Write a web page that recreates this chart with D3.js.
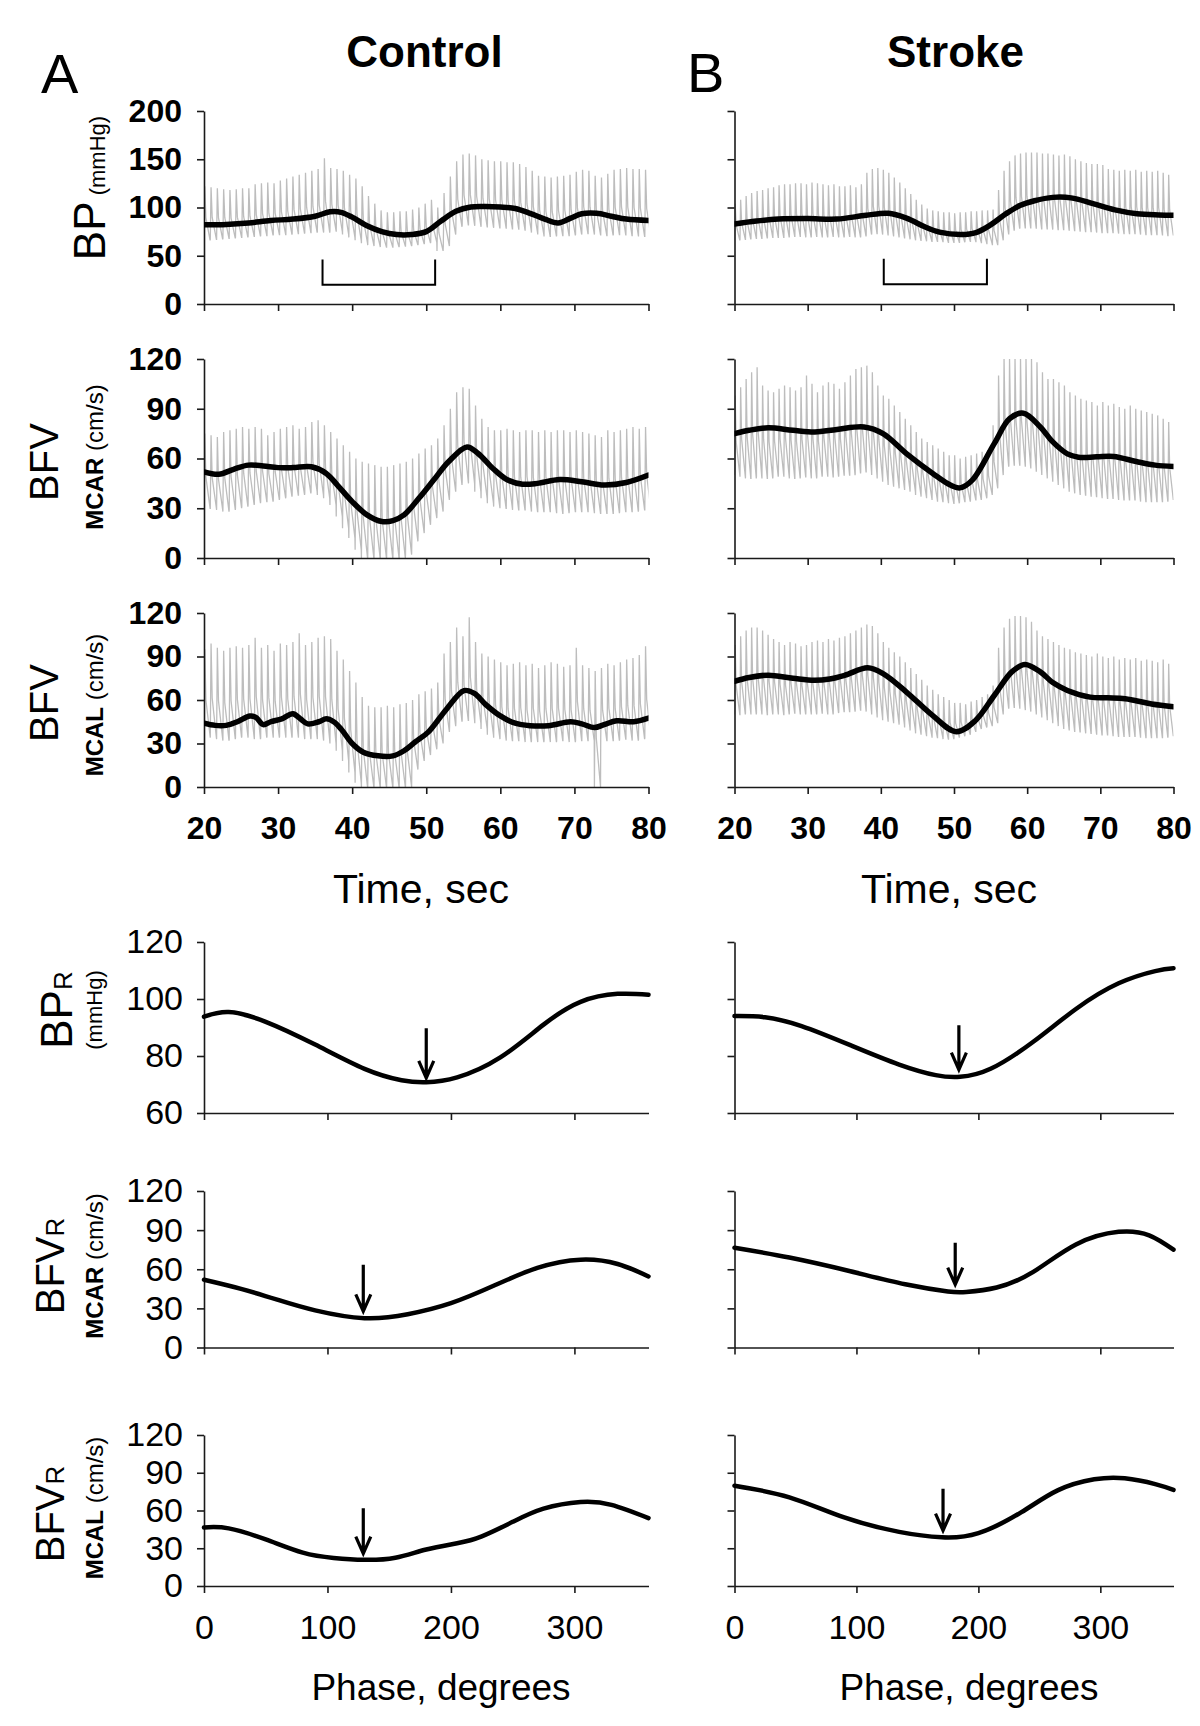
<!DOCTYPE html>
<html><head><meta charset="utf-8">
<script src="https://cdn.jsdelivr.net/npm/d3@7"></script>
<style>
body{margin:0;background:#fff}
svg{display:block}
text{font-family:"Liberation Sans",Arial,Helvetica,sans-serif;fill:#000}
</style>
</head><body>
<svg id="c" width="1200" height="1726"></svg>
<script>
// ---------------- DATA ----------------
const timeTicks = [20,30,40,50,60,70,80];
const phaseTicks = [0,100,200,300];
const bpTicks = [0,50,100,150,200];
const bfvTicks = [0,30,60,90,120];
const bprTicks = [60,80,100,120];

// beat-to-beat (one value per heartbeat), beats start at 20 s
const ctrlBeatPeriod = 0.85;
const strkBeatPeriod = 0.75;

const ctrlBPsys = [122,121,120,119,118,119,120,120,124,125,126,125,128,130,132,134,136,138,140,151,141,140,138,134,130,122,112,104,97,95,95,96,96,98,100,104,108,100,115,132,148,155,156,154,150,149,148,148,147,147,145,142,138,133,132,131,132,133,134,137,139,138,133,131,135,139,140,141,140,140,139];
const ctrlBPdia = [66,67,67,68,68,69,69,70,70,71,71,72,72,72,73,73,74,74,75,74,76,75,72,69,66,63,61,60,59,59,59,60,60,61,62,63,64,55,60,72,80,82,82,81,80,80,79,79,78,78,77,76,74,72,70,70,71,71,71,72,73,73,72,71,71,72,72,71,71,70,70];
const ctrlMCARsys = [75,74,73,76,77,78,79,78,79,78,74,76,78,79,80,78,79,82,83,80,76,72,68,64,60,58,57,56,55,55,56,57,58,60,63,66,68,72,80,90,100,103,102,92,84,79,77,77,78,77,76,77,77,76,77,76,77,77,76,77,76,75,74,73,77,76,77,78,79,78,79];
const ctrlMCARdia = [30,30,29,28,29,30,31,32,33,34,34,35,36,37,38,38,39,40,38,36,32,25,18,12,5,0,0,0,0,0,0,0,2,10,15,20,24,28,35,40,44,46,45,40,36,33,31,30,30,29,29,29,28,28,28,28,27,27,28,28,28,28,27,27,27,27,28,28,28,29,29];
const ctrlMCALsys = [95,99,96,94,96,97,96,98,103,96,98,94,99,98,100,106,98,100,103,104,102,94,88,80,72,62,56,55,55,56,55,57,58,60,64,66,68,72,92,100,110,104,117,100,92,90,88,86,84,85,86,84,85,82,84,86,85,83,84,96,84,82,80,82,85,84,86,88,89,91,97];
const ctrlMCALdia = [35,34,33,32,33,34,35,34,33,34,35,34,35,34,35,34,33,34,33,32,30,25,18,10,3,0,0,0,0,0,0,0,0,12,18,22,26,30,38,42,45,46,46,44,40,36,34,33,32,32,32,31,32,31,32,31,32,32,31,32,32,32,0,32,32,32,33,33,32,33,34];

const strkBPsys = [104,108,112,115,117,118,120,121,123,124,124,125,125,124,126,125,124,123,124,122,122,123,121,124,136,140,141,139,136,131,126,120,114,108,103,99,97,96,95,95,94,95,95,96,96,97,97,98,118,138,148,154,156,157,157,157,156,156,155,154,155,153,150,148,146,145,145,144,140,139,138,139,138,139,137,138,137,138,136,134];
const strkBPdia = [66,67,67,68,68,68,69,69,69,69,70,70,70,69,70,70,69,70,70,69,70,70,69,70,72,73,73,72,71,70,69,68,67,66,66,65,65,65,64,64,64,64,65,65,64,63,62,61,66,72,76,78,79,79,79,78,78,78,77,77,77,76,76,75,75,75,74,74,74,74,73,73,73,73,72,72,72,72,71,71];
const strkMCARsys = [98,103,108,112,115,104,101,100,102,104,103,101,103,110,105,100,104,106,105,102,106,110,114,115,116,112,104,98,96,92,88,84,80,76,72,70,68,66,64,62,62,60,61,62,63,64,65,80,110,120,120,120,120,120,120,118,112,108,108,106,104,100,98,96,95,94,92,94,92,93,91,90,92,90,89,88,87,86,84,82];
const strkMCARdia = [50,49,48,48,49,48,48,49,50,49,48,48,49,49,48,49,50,49,49,50,50,50,51,52,52,50,48,46,44,43,42,41,40,38,37,36,35,34,34,33,33,34,34,35,35,36,38,42,50,55,56,56,56,55,54,52,50,48,46,44,42,40,39,38,38,37,37,36,36,36,35,35,35,35,34,34,34,34,34,35];
const strkMCALsys = [98,104,108,110,110,108,105,102,100,98,100,99,97,98,100,101,100,102,101,103,104,106,108,110,112,111,106,100,96,93,90,86,82,78,74,70,67,64,62,60,58,58,57,59,60,62,64,70,96,110,116,118,118,117,114,108,104,102,100,98,96,95,93,92,91,90,92,90,89,90,88,89,88,89,87,88,87,86,88,85];
const strkMCALdia = [50,50,51,50,51,50,50,51,50,50,51,51,50,51,50,51,51,50,51,52,52,52,53,53,52,50,48,46,45,44,43,41,39,37,36,35,34,34,33,33,34,35,36,38,40,41,42,44,50,54,55,55,54,53,52,50,48,46,44,42,40,39,38,38,37,37,36,36,36,35,35,35,35,35,34,34,34,34,34,35];

// mean (filtered) signals [time s, value]
const ctrlBPmean = [[20,82],[23,82.5],[26,84],[29,86.5],[32,88],[35,91],[37,95.5],[38.5,95],[40,90],[42,81],[44,75],[46,72],[48,72],[50,75],[52,86],[54,96],[56,100.5],[58,101],[60,100.5],[62,99],[64,94],[66,88],[67.8,84],[69.5,89],[71,93.5],[73,94],[75,91],[77,88],[80,86.5]];
const strkBPmean = [[20,83],[23,86],[26,88],[30,88.5],[34,88],[38,92],[41,94],[43.5,89],[46,80],[48,74.5],[51,72],[53,74],[55,82],[57,93],[59,102],[61,107],[63.5,110.5],[66,110],[69,104],[72,97.5],[75,93.5],[78,92.3],[80,92]];
const ctrlMCARmean = [[20,52],[22,50.5],[24,53.5],[26,56],[28,55.5],[30,54.5],[32,54.5],[34.5,55],[36.5,51],[38,44],[40,34],[42,26],[44,22],[45.5,22.5],[47,26],[49,36],[51,47],[53,58],[55.5,67],[57,63],[59,54],[61,47],[63,44.5],[65,45],[68,47.3],[71,46],[74,44],[77,45.5],[80,50]];
const strkMCARmean = [[20,75],[22,77],[24.6,78.5],[28,77],[31,76],[34,77.5],[37.7,79],[40.3,75],[43.5,63],[47.1,51],[49.5,44],[50.8,42.3],[52.5,47],[55.5,69],[57.6,84],[59.5,87.3],[61.8,79],[63.5,70],[65.5,62.8],[67,60.8],[69.5,61],[71.8,61.2],[74.9,58.2],[77.5,56],[80,55.2]];
const ctrlMCALmean = [[20,44],[21.5,42.5],[23,42.5],[24.5,45],[26.2,49],[27,48],[28,43],[29,45],[30.5,47],[32,50.5],[33,47],[34,43.5],[35.5,45],[36.5,47],[37.5,45],[38.5,40],[40,30],[41.5,24],[43.5,21.5],[45.5,21.5],[47,25],[48.5,31],[50.3,38],[52.7,53.5],[55.1,66.5],[56.5,64.5],[58,57],[60,49],[62,44],[64,42.3],[66.5,42.3],[69.5,45],[71,43.5],[72.7,41],[74,43],[75.7,45.7],[78,45],[80,47.5]];
const strkMCALmean = [[20,72.9],[22,75.5],[24.6,77.1],[28,75],[30.9,73.6],[33,74.5],[35.1,77.1],[38.2,82.2],[40.3,78.2],[43.5,65.5],[47.1,49.2],[50.3,38.1],[52.9,45.7],[55.5,63.1],[57.9,79.4],[59.7,84.5],[61.8,79.4],[63.5,72],[65.5,66.6],[68.6,62],[71,61.5],[73.4,60.8],[77,57.3],[80,55.4]];

// stimulus bracket [start s, end s, top, bottom]
const ctrlBracket = [36, 51.2, 46, 20];
const strkBracket = [40.4, 54.5, 47, 20.5];

// phase-averaged responses [phase deg, value]
const ctrlBPR = [[0,93.8],[20,95.4],[50,92],[90,84],[130,75.5],[160,71.5],[180,70.8],[205,72.5],[240,79.5],[275,91],[305,99],[335,101.8],[360,101.5]];
const strkBPR = [[0,94],[25,93.6],[55,90.5],[95,83.8],[135,77],[165,73.3],[185,72.7],[210,75.5],[245,85],[280,96.5],[315,105.5],[345,109.8],[360,110.8]];
const ctrlMCARR = [[0,52],[30,45],[60,36.5],[90,28.5],[130,22.5],[165,25.5],[200,34],[235,47.5],[270,61],[305,67.3],[335,64],[360,54.5]];
const strkMCARR = [[0,76.5],[45,69],[95,58.5],[140,48.5],[175,43],[190,42.6],[215,46],[245,58],[280,79],[315,88.7],[340,86],[360,75]];
const ctrlMCALR = [[0,46.5],[20,45.8],[50,37],[80,26.5],[105,22.3],[130,20.8],[155,22.5],[180,29],[205,34],[225,39.5],[250,51],[275,61.5],[305,66.8],[330,64.5],[360,54]];
const strkMCALR = [[0,79.7],[45,70.5],[90,54.5],[135,43],[170,38.7],[200,42],[235,58.5],[265,76],[295,84.8],[320,85.6],[345,81],[360,76.4]];

// arrows [phase, from, to]
const ctrlArrows = [[180,89.7,72.3],[129,63.5,27.7],[129,61.7,25.8]];
const strkArrows = [[184,90.8,75.2],[181,80.3,48.2],[171,77.2,44]];

// ---------------- LAYOUT ----------------
const svg = d3.select("#c");
const cols = [{x0:204, x1:648.5}, {x0:734.5, x1:1173.5}];
const rows = [
  {top:111, bot:304}, {top:359, bot:558}, {top:613, bot:787},
  {top:942, bot:1113}, {top:1191, bot:1347.5}, {top:1435, bot:1586}
];
const AX = "#1a1a1a";
const NARROW = '"Liberation Sans Narrow","Arial Narrow",sans-serif';
let clipId = 0;

function styleAxis(g, fontSize, bold){
  g.select(".domain").attr("stroke", AX).attr("stroke-width", 1.6);
  g.selectAll(".tick line").attr("stroke", AX).attr("stroke-width", 1.6);
  g.selectAll(".tick text").attr("font-size", fontSize).attr("font-weight", bold ? "bold" : "normal")
    .attr("fill", "#000").style("font-family", NARROW);
}

function timePanel(ci, ri, yDomain, yTicks, sys, dia, period, mean, showYLabels, showXLabels, bracket){
  const c = cols[ci], r = rows[ri];
  const x = d3.scaleLinear().domain([20,80]).range([c.x0, c.x1]);
  const y = d3.scaleLinear().domain(yDomain).range([r.bot, r.top]);
  const g = svg.append("g");
  const id = "clip" + (clipId++);
  svg.append("clipPath").attr("id", id).append("rect")
    .attr("x", c.x0).attr("y", r.top).attr("width", c.x1 - c.x0).attr("height", r.bot - r.top);
  const pts = [];
  sys.forEach((s, i) => {
    const t = 20 + i * period, d = dia[i];
    pts.push([t, d], [t + 0.12 * period, s], [t + 0.3 * period, d + 0.42 * (s - d)], [t + 0.97 * period, d]);
  });
  g.append("path").attr("clip-path", `url(#${id})`)
    .attr("d", d3.line().x(p => x(p[0])).y(p => y(p[1]))(pts))
    .attr("fill", "none").attr("stroke", "#bdbdbd").attr("stroke-width", 1.3);
  const ya = g.append("g").attr("transform", `translate(${c.x0},0)`)
    .call(d3.axisLeft(y).tickValues(yTicks).tickSize(7).tickSizeOuter(0).tickPadding(15)
      .tickFormat(showYLabels ? d3.format("d") : () => ""));
  styleAxis(ya, 32, true);
  const xa = g.append("g").attr("transform", `translate(0,${r.bot})`)
    .call(d3.axisBottom(x).tickValues(timeTicks).tickSize(7).tickSizeOuter(0).tickPadding(22)
      .tickFormat(showXLabels ? d3.format("d") : () => ""));
  styleAxis(xa, 32, true);
  g.append("path").attr("clip-path", `url(#${id})`)
    .attr("d", d3.line().x(p => x(p[0])).y(p => y(p[1])).curve(d3.curveCatmullRom.alpha(0.5))(mean))
    .attr("fill", "none").attr("stroke", "#000").attr("stroke-width", 5.5)
    .attr("stroke-linecap", "round").attr("stroke-linejoin", "round");
  if (bracket){
    const [a, b, top, bot] = bracket;
    g.append("path")
      .attr("d", `M${x(a)},${y(top)}V${y(bot)}H${x(b)}V${y(top)}`)
      .attr("fill", "none").attr("stroke", "#000").attr("stroke-width", 2);
  }
}

function phasePanel(ci, ri, yDomain, yTicks, data, arrow, showYLabels, showXLabels){
  const c = cols[ci], r = rows[ri];
  const x = d3.scaleLinear().domain([0,360]).range([c.x0, c.x1]);
  const y = d3.scaleLinear().domain(yDomain).range([r.bot, r.top]);
  const g = svg.append("g");
  const ya = g.append("g").attr("transform", `translate(${c.x0},0)`)
    .call(d3.axisLeft(y).tickValues(yTicks).tickSize(7).tickSizeOuter(0).tickPadding(14)
      .tickFormat(showYLabels ? d3.format("d") : () => ""));
  styleAxis(ya, 34, false);
  const xa = g.append("g").attr("transform", `translate(0,${r.bot})`)
    .call(d3.axisBottom(x).tickValues(phaseTicks).tickSize(7).tickSizeOuter(0).tickPadding(22)
      .tickFormat(showXLabels ? d3.format("d") : () => ""));
  styleAxis(xa, 34, false);
  g.append("path")
    .attr("d", d3.line().x(p => x(p[0])).y(p => y(p[1])).curve(d3.curveNatural)(data))
    .attr("fill", "none").attr("stroke", "#000").attr("stroke-width", 4.5)
    .attr("stroke-linecap", "round");
  const [ph, from, to] = arrow;
  const ax = x(ph), y0 = y(from), y1 = y(to);
  g.append("path").attr("d", `M${ax},${y0}V${y1}M${ax - 7.5},${y1 - 17}L${ax},${y1}L${ax + 7.5},${y1 - 17}`)
    .attr("fill", "none").attr("stroke", "#000").attr("stroke-width", 3.2);
}

timePanel(0, 0, [0,200], bpTicks, ctrlBPsys, ctrlBPdia, ctrlBeatPeriod, ctrlBPmean, true, false, ctrlBracket);
timePanel(0, 1, [0,120], bfvTicks, ctrlMCARsys, ctrlMCARdia, ctrlBeatPeriod, ctrlMCARmean, true, false, null);
timePanel(0, 2, [0,120], bfvTicks, ctrlMCALsys, ctrlMCALdia, ctrlBeatPeriod, ctrlMCALmean, true, true, null);
timePanel(1, 0, [0,200], bpTicks, strkBPsys, strkBPdia, strkBeatPeriod, strkBPmean, false, false, strkBracket);
timePanel(1, 1, [0,120], bfvTicks, strkMCARsys, strkMCARdia, strkBeatPeriod, strkMCARmean, false, false, null);
timePanel(1, 2, [0,120], bfvTicks, strkMCALsys, strkMCALdia, strkBeatPeriod, strkMCALmean, false, true, null);

phasePanel(0, 3, [60,120], bprTicks, ctrlBPR, ctrlArrows[0], true, false);
phasePanel(0, 4, [0,120], bfvTicks, ctrlMCARR, ctrlArrows[1], true, false);
phasePanel(0, 5, [0,120], bfvTicks, ctrlMCALR, ctrlArrows[2], true, true);
phasePanel(1, 3, [60,120], bprTicks, strkBPR, strkArrows[0], false, false);
phasePanel(1, 4, [0,120], bfvTicks, strkMCARR, strkArrows[1], false, false);
phasePanel(1, 5, [0,120], bfvTicks, strkMCALR, strkArrows[2], false, true);

// ---------------- TEXT ----------------
function txt(x, y, s, size, weight, anchor){
  svg.append("text").attr("x", x).attr("y", y).attr("font-size", size)
    .attr("font-weight", weight || "normal").attr("text-anchor", anchor || "start").text(s);
}
txt(41, 93, "A", 56);
txt(687, 92, "B", 56);
txt(424.5, 67, "Control", 44, "bold", "middle");
txt(955.5, 67, "Stroke", 44, "bold", "middle");
txt(421, 903, "Time, sec", 41, "normal", "middle");
txt(949, 903, "Time, sec", 41, "normal", "middle");
txt(441, 1700, "Phase, degrees", 37, "normal", "middle");
txt(969, 1700, "Phase, degrees", 37, "normal", "middle");

function vlabel(x, y, parts){
  const t = svg.append("text").attr("transform", `translate(${x},${y}) rotate(-90)`)
    .attr("text-anchor", "middle");
  parts.forEach(p => {
    t.append("tspan").attr("font-size", p[1]).attr("font-weight", p[2] || "normal").text(p[0]);
  });
}
vlabel(105, 188, [["BP", 44], ["\u00a0(mmHg)", 22]]);
vlabel(58, 462, [["BFV", 40]]);
vlabel(103, 457, [["MCAR", 24, "bold"], ["\u00a0(cm/s)", 24]]);
vlabel(58, 703, [["BFV", 40]]);
vlabel(103, 705, [["MCAL", 24, "bold"], ["\u00a0(cm/s)", 24]]);
vlabel(72, 1010, [["BP", 44], ["R", 26]]);
vlabel(102, 1010, [["(mmHg)", 22]]);
vlabel(64, 1266, [["BFV", 40], ["R", 26]]);
vlabel(103, 1266, [["MCAR", 24, "bold"], ["\u00a0(cm/s)", 24]]);
vlabel(64, 1514, [["BFV", 40], ["R", 26]]);
vlabel(103, 1508, [["MCAL", 24, "bold"], ["\u00a0(cm/s)", 24]]);
</script>
</body></html>
